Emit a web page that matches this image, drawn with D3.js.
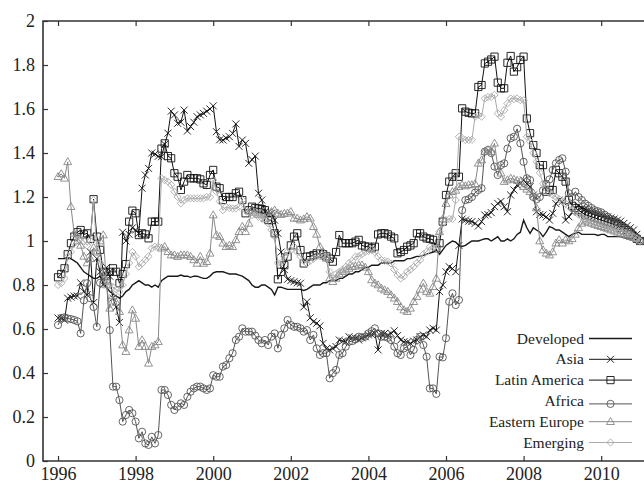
<!DOCTYPE html>
<html>
<head>
<meta charset="UTF-8">
<script src="https://d3js.org/d3.v7.min.js"></script>
<style>
  body { margin: 0; background: #fff; }
  text { font-family: "Liberation Serif", "DejaVu Serif", serif; fill: #222; }
</style>
</head>
<body>
<svg id="chart" width="644" height="484"></svg>
<script>
// monthly values, Jan 1996 .. Jan 2011 (181 points each)
var startYear = 1996;

var developed = [
  0.92,0.92,0.92,0.92,0.92,0.91,0.90,0.88,0.86,0.85,0.84,0.83,
  0.83,0.84,0.81,0.79,0.77,0.76,0.75,0.74,0.75,0.77,0.78,0.80,
  0.81,0.82,0.81,0.80,0.80,0.79,0.80,0.79,0.82,0.83,0.84,0.84,
  0.84,0.84,0.845,0.84,0.84,0.835,0.84,0.84,0.835,0.83,0.83,0.84,
  0.855,0.86,0.86,0.86,0.855,0.85,0.85,0.85,0.845,0.84,0.83,0.82,
  0.80,0.79,0.79,0.80,0.80,0.79,0.78,0.755,0.79,0.79,0.785,0.78,
  0.78,0.78,0.78,0.78,0.775,0.78,0.79,0.80,0.80,0.80,0.81,0.81,
  0.82,0.82,0.82,0.83,0.83,0.84,0.85,0.85,0.86,0.86,0.87,0.88,
  0.88,0.89,0.89,0.89,0.90,0.90,0.90,0.90,0.91,0.91,0.91,0.91,
  0.92,0.92,0.925,0.93,0.93,0.935,0.94,0.945,0.95,0.96,0.94,0.96,
  0.98,0.99,1.0,0.995,0.98,0.975,0.98,0.99,1.0,1.0,1.0,1.005,
  1.01,1.01,1.00,1.01,1.02,1.00,1.00,1.01,1.00,1.01,1.03,1.04,
  1.095,1.06,1.035,1.06,1.05,1.04,1.02,1.04,1.065,1.06,1.05,1.05,
  1.04,1.03,1.02,1.03,1.035,1.04,1.03,1.03,1.03,1.03,1.03,1.025,
  1.03,1.03,1.02,1.02,1.02,1.02,1.02,1.015,1.01,1.01,1.01,1.005,1.0
];

var asia = [
  0.65,0.65,0.64,0.74,0.745,0.75,0.75,0.81,0.77,0.755,0.95,0.72,
  0.92,0.86,0.80,0.88,0.84,0.74,0.70,0.63,1.04,1.00,1.03,1.06,
  1.05,1.035,1.24,1.30,1.33,1.40,1.395,1.385,1.383,1.44,1.49,1.59,
  1.573,1.535,1.54,1.595,1.50,1.52,1.54,1.565,1.573,1.58,1.59,1.60,
  1.614,1.497,1.46,1.459,1.468,1.474,1.489,1.532,1.43,1.459,1.444,1.353,
  1.37,1.386,1.217,1.186,1.133,1.13,1.126,1.095,1.035,0.95,0.87,0.826,
  0.82,0.815,0.81,0.808,0.70,0.724,0.651,0.633,0.626,0.614,0.535,0.51,
  0.505,0.512,0.52,0.55,0.545,0.542,0.565,0.56,0.558,0.55,0.56,0.565,
  0.573,0.575,0.58,0.505,0.58,0.58,0.573,0.58,0.592,0.57,0.55,0.542,
  0.54,0.535,0.545,0.55,0.565,0.573,0.565,0.595,0.603,0.595,0.77,0.80,
  0.86,0.883,0.875,0.86,0.98,1.10,1.095,1.09,1.088,1.08,1.068,1.088,
  1.118,1.12,1.129,1.156,1.171,1.18,1.156,1.133,1.209,1.232,1.255,1.26,
  1.277,1.26,1.247,1.209,1.133,1.12,1.118,1.11,1.095,1.126,1.17,1.186,
  1.18,1.095,1.11,1.13,1.15,1.16,1.15,1.145,1.14,1.135,1.13,1.125,
  1.12,1.115,1.11,1.105,1.10,1.095,1.09,1.08,1.07,1.06,1.05,1.03,1.0
];

var latinAmerica = [
  0.835,0.85,0.876,0.94,0.99,1.02,1.04,1.05,1.03,1.035,1.01,1.19,
  1.02,0.96,0.86,0.84,0.86,0.876,0.86,0.808,0.85,0.895,1.088,1.138,
  1.126,1.027,1.035,1.03,1.012,1.088,1.088,1.088,1.42,1.444,1.386,1.376,
  1.308,1.292,1.232,1.27,1.30,1.285,1.285,1.285,1.28,1.262,1.255,1.30,
  1.323,1.247,1.24,1.186,1.20,1.20,1.20,1.217,1.224,1.186,1.126,1.14,
  1.156,1.15,1.148,1.145,1.14,1.095,1.095,1.035,0.826,0.86,0.89,0.929,
  0.98,1.02,1.035,0.959,0.898,0.929,0.93,0.936,0.944,0.944,0.94,0.93,
  0.92,0.906,0.95,1.027,0.99,0.99,0.99,0.99,0.997,1.005,0.98,0.975,
  0.974,0.967,0.974,1.03,1.035,1.035,1.03,1.02,1.012,0.944,0.95,0.959,
  0.974,0.98,0.99,1.035,1.035,1.02,1.012,1.01,1.005,0.967,0.99,1.088,
  1.209,1.27,1.292,1.308,1.292,1.603,1.588,1.583,1.58,1.58,1.70,1.709,
  1.807,1.815,1.825,1.838,1.72,1.694,1.694,1.81,1.841,1.77,1.79,1.823,
  1.838,1.557,1.49,1.436,1.40,1.345,1.345,1.224,1.232,1.232,1.323,1.308,
  1.292,1.27,1.186,1.16,1.15,1.14,1.13,1.12,1.115,1.11,1.105,1.10,
  1.095,1.09,1.085,1.08,1.075,1.07,1.06,1.05,1.04,1.03,1.02,1.01,1.0
];

var africa = [
  0.618,0.65,0.653,0.648,0.645,0.641,0.635,0.58,0.73,0.808,0.74,0.70,
  0.61,0.81,0.86,0.82,0.595,0.338,0.338,0.277,0.179,0.209,0.232,0.217,
  0.179,0.103,0.133,0.08,0.073,0.11,0.08,0.118,0.323,0.323,0.30,0.255,
  0.232,0.247,0.262,0.255,0.292,0.315,0.33,0.338,0.338,0.33,0.323,0.33,
  0.39,0.383,0.383,0.429,0.436,0.467,0.49,0.55,0.565,0.603,0.588,0.588,
  0.588,0.57,0.55,0.535,0.55,0.527,0.565,0.58,0.512,0.573,0.603,0.641,
  0.618,0.61,0.61,0.603,0.588,0.595,0.55,0.573,0.512,0.482,0.49,0.49,
  0.376,0.399,0.414,0.482,0.49,0.52,0.542,0.545,0.553,0.565,0.56,0.565,
  0.58,0.59,0.603,0.58,0.565,0.565,0.56,0.55,0.52,0.49,0.482,0.512,
  0.52,0.482,0.505,0.55,0.565,0.527,0.474,0.33,0.33,0.305,0.474,0.471,
  0.558,0.724,0.762,0.709,0.732,1.14,1.186,1.19,1.20,1.22,1.232,1.24,
  1.406,1.414,1.40,1.338,1.30,1.345,1.353,1.42,1.467,1.474,1.51,1.444,
  1.36,1.285,1.277,1.20,1.19,1.20,1.23,1.26,1.28,1.323,1.353,1.368,
  1.376,1.315,1.217,1.20,1.224,1.20,1.186,1.17,1.16,1.15,1.14,1.135,
  1.13,1.12,1.11,1.10,1.095,1.085,1.075,1.065,1.055,1.045,1.03,1.015,1.0
];

var easternEurope = [
  1.292,1.305,1.285,1.36,1.156,1.035,1.00,0.98,0.93,0.90,0.92,0.97,
  0.95,1.00,1.027,0.80,0.694,0.75,0.72,0.679,0.527,0.497,0.595,0.686,
  0.648,0.52,0.55,0.52,0.444,0.52,0.527,0.542,0.967,0.974,0.951,0.936,
  0.936,0.929,0.936,0.936,0.936,0.929,0.914,0.898,0.929,0.898,0.906,0.944,
  1.118,1.027,1.02,0.99,0.974,0.98,0.974,1.005,1.042,1.065,1.042,1.08,
  1.14,1.13,1.12,1.126,1.10,1.12,1.133,1.14,1.126,1.12,1.125,1.126,
  1.133,1.103,1.103,1.095,1.10,1.11,1.103,1.065,1.03,0.974,0.95,0.921,
  0.83,0.815,0.83,0.85,0.86,0.868,0.875,0.883,0.885,0.891,0.89,0.88,
  0.86,0.823,0.808,0.80,0.785,0.777,0.77,0.755,0.74,0.724,0.70,0.686,
  0.679,0.694,0.724,0.747,0.78,0.808,0.77,0.762,0.792,0.83,1.042,1.10,
  1.17,1.209,1.224,1.23,1.247,1.255,1.25,1.255,1.255,1.26,1.353,1.368,
  1.406,1.414,1.406,1.444,1.338,1.308,1.27,1.277,1.285,1.28,1.275,1.27,
  1.247,1.235,1.224,1.217,1.15,1.0,0.959,0.944,0.936,0.95,0.99,1.005,
  0.99,1.005,1.0,1.01,1.03,1.06,1.08,1.09,1.085,1.08,1.075,1.07,
  1.065,1.06,1.055,1.05,1.045,1.04,1.035,1.03,1.025,1.02,1.015,1.01,1.0
];

var emerging = [
  0.80,0.808,0.83,0.929,0.951,0.99,1.02,1.012,1.0,0.98,1.0,1.186,
  0.95,0.90,0.85,0.82,0.80,0.79,0.78,0.77,0.80,0.85,0.90,0.95,
  0.93,0.883,0.898,0.914,0.93,0.967,0.974,0.974,1.285,1.277,1.27,1.255,
  1.224,1.20,1.171,1.186,1.194,1.194,1.194,1.194,1.194,1.194,1.20,1.20,
  1.277,1.224,1.18,1.14,1.156,1.15,1.148,1.148,1.156,1.186,1.14,1.133,
  1.118,1.12,1.11,1.105,1.103,1.08,1.05,1.02,0.90,0.90,0.929,0.95,
  0.959,0.974,0.95,0.929,0.91,0.898,0.91,0.92,0.93,0.93,0.925,0.921,
  0.86,0.83,0.85,0.86,0.87,0.883,0.90,0.91,0.929,0.93,0.94,0.95,
  0.955,0.959,0.95,0.93,0.914,0.91,0.906,0.898,0.87,0.845,0.83,0.84,
  0.86,0.87,0.883,0.90,0.914,0.94,0.951,0.974,0.97,0.967,1.042,1.08,
  1.095,1.10,1.10,1.186,1.474,1.467,1.459,1.459,1.46,1.565,1.573,1.565,
  1.648,1.655,1.655,1.664,1.58,1.565,1.595,1.625,1.648,1.645,1.648,1.64,
  1.64,1.474,1.451,1.40,1.36,1.31,1.26,1.24,1.217,1.21,1.20,1.19,
  1.18,1.17,1.156,1.145,1.133,1.12,1.11,1.10,1.095,1.09,1.085,1.08,
  1.075,1.07,1.065,1.06,1.055,1.05,1.045,1.04,1.035,1.03,1.02,1.01,1.0
];

var yearTicks = [1996, 1998, 2000, 2002, 2004, 2006, 2008, 2010];
var valueTicks = [0, 0.2, 0.4, 0.6, 0.8, 1, 1.2, 1.4, 1.6, 1.8, 2];

var seriesNames = ["Developed", "Asia", "Latin America", "Africa", "Eastern Europe", "Emerging"];
var seriesValues = [developed, asia, latinAmerica, africa, easternEurope, emerging];
var seriesColors = ["#1a1a1a", "#111", "#111", "#555", "#888", "#aaa"];
var seriesMarks = ["none", "cross", "square", "circle", "triangle", "diamond"];

var plotLeft = 43, plotTop = 21, plotBottom = 461, frameRight = 648;

var svg = d3.select("#chart");

var x = d3.scaleLinear().domain([1995.613, 2011]).range([plotLeft, 640]);
var y = d3.scaleLinear().domain([0, 2]).range([plotBottom, plotTop]);

function markPath(kind) {
  if (kind == "cross") return "M-3.5,-3.5L3.5,3.5M-3.5,3.5L3.5,-3.5";
  if (kind == "square") return "M-3.6,-3.6H3.6V3.6H-3.6Z";
  if (kind == "circle") return "M3.6,0A3.6,3.6 0 1,1 -3.6,0A3.6,3.6 0 1,1 3.6,0Z";
  if (kind == "triangle") return "M0,-4.2L4,2.8H-4Z";
  if (kind == "diamond") return "M0,-3.6L3.6,0L0,3.6L-3.6,0Z";
  return "";
}

var line = d3.line()
  .x(function(d, i) { return x(startYear + i / 12); })
  .y(function(d) { return y(d); });

// series
seriesValues.forEach(function(vals, s) {
  var g = svg.append("g");
  g.append("path")
    .attr("d", line(vals))
    .attr("fill", "none")
    .attr("stroke", seriesColors[s])
    .attr("stroke-width", s == 0 ? 1.4 : 1);
  if (seriesMarks[s] != "none") {
    g.selectAll("path.mk")
      .data(vals)
      .enter().append("path")
      .attr("class", "mk")
      .attr("d", markPath(seriesMarks[s]))
      .attr("transform", function(d, i) {
        return "translate(" + x(startYear + i / 12) + "," + y(d) + ")";
      })
      .attr("fill", "none")
      .attr("stroke", seriesColors[s])
      .attr("stroke-width", 0.9);
  }
});

// axes
var yAxis = svg.append("g")
  .attr("transform", "translate(" + plotLeft + ",0)")
  .call(d3.axisLeft(y).tickValues(valueTicks).tickSize(-5).tickPadding(8)
    .tickFormat(function(d) { return String(+d.toFixed(1)); }));

var xAxis = svg.append("g")
  .attr("transform", "translate(0," + plotBottom + ")")
  .call(d3.axisBottom(x).tickValues(yearTicks).tickSize(-5).tickPadding(6)
    .tickFormat(d3.format("d")));

var xTop = svg.append("g")
  .attr("transform", "translate(0," + plotTop + ")")
  .call(d3.axisTop(x).tickValues(yearTicks).tickSize(-5).tickFormat(""));

[yAxis, xAxis, xTop].forEach(function(a) {
  a.select(".domain").remove();
  a.selectAll(".tick line").attr("stroke", "#333").attr("stroke-width", 1.2);
  a.selectAll(".tick text")
    .attr("fill", "#222")
    .style("font-family", "'Liberation Serif', serif")
    .style("font-size", "18px");
});

// frame
svg.append("path")
  .attr("d", "M" + frameRight + "," + plotTop + "H" + plotLeft + "V" + plotBottom + "H" + frameRight)
  .attr("fill", "none")
  .attr("stroke", "#333")
  .attr("stroke-width", 1.6);

// legend
var legend = svg.append("g");
seriesNames.forEach(function(name, s) {
  var cy = 338.5 + s * 20.8;
  var ly = s == 3 ? cy + 3 : cy;
  legend.append("text")
    .attr("x", 584)
    .attr("y", cy)
    .attr("dy", "0.33em")
    .attr("text-anchor", "end")
    .style("font-size", "15.5px")
    .text(name);
  legend.append("line")
    .attr("x1", 589).attr("x2", 632)
    .attr("y1", ly).attr("y2", ly)
    .attr("stroke", seriesColors[s])
    .attr("stroke-width", s == 0 ? 1.4 : 1);
  if (seriesMarks[s] != "none") {
    legend.append("path")
      .attr("d", markPath(seriesMarks[s]))
      .attr("transform", "translate(610.5," + ly + ")")
      .attr("fill", "none")
      .attr("stroke", seriesColors[s])
      .attr("stroke-width", 0.9);
  }
});
</script>
</body>
</html>
